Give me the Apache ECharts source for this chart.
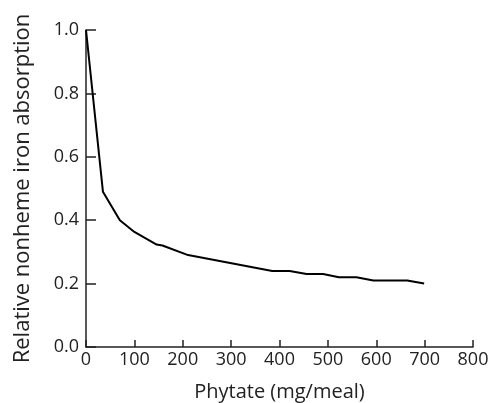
<!DOCTYPE html>
<html><head><meta charset="utf-8">
<script src="https://cdn.jsdelivr.net/npm/echarts@6/dist/echarts.min.js"></script>
<style>html,body{margin:0;padding:0;background:#fff}#c{width:493px;height:403px}</style>
</head><body><div id="c"></div>
<script>
var phytate = [0, 35, 70, 100, 146, 158, 211, 385, 421, 456, 490, 523, 559, 594, 664, 699];
var absorption = [1.0, 0.49, 0.40, 0.363, 0.323, 0.32, 0.29, 0.24, 0.24, 0.23, 0.23, 0.22, 0.22, 0.21, 0.21, 0.20];
var xTitle = 'Phytate (mg/meal)';
var yTitle = 'Relative nonheme iron absorption';

var pts = phytate.map(function(x, i){ return [x, absorption[i]]; });
var font = '"Open Sans", "DejaVu Sans", sans-serif';
var chart = echarts.init(document.getElementById('c'), null, {renderer:'canvas'});
chart.setOption({
  animation: false,
  grid: {left: 86, right: 20, top: 30, bottom: 56, containLabel: false, outerBoundsMode: 'none'},
  xAxis: {
    type: 'value', min: 0, max: 800, interval: 100,
    name: xTitle, nameLocation: 'middle', nameGap: 35,
    nameTextStyle: {fontFamily: font, fontSize: 20, color: '#222'},
    axisLine: {show: true, lineStyle: {color: '#222', width: 1.5}},
    axisTick: {show: true, inside: true, length: 7, lineStyle: {color: '#222', width: 1.5}},
    axisLabel: {fontFamily: font, fontSize: 18, color: '#222', margin: 4},
    splitLine: {show: false}
  },
  yAxis: {
    type: 'value', min: 0, max: 1, interval: 0.2,
    name: yTitle, nameLocation: 'middle', nameGap: 52,
    nameTextStyle: {fontFamily: font, fontSize: 22, color: '#222'},
    axisLine: {show: true, lineStyle: {color: '#222', width: 1.5}},
    axisTick: {show: true, inside: true, length: 10, lineStyle: {color: '#222', width: 1.5}},
    axisLabel: {fontFamily: font, fontSize: 18, color: '#222', margin: 7,
      formatter: function(v){ return v.toFixed(1); }},
    splitLine: {show: false}
  },
  series: [{
    type: 'line', data: pts, showSymbol: false, symbol: 'none',
    lineStyle: {color: '#000', width: 2}
  }]
});
</script></body></html>
